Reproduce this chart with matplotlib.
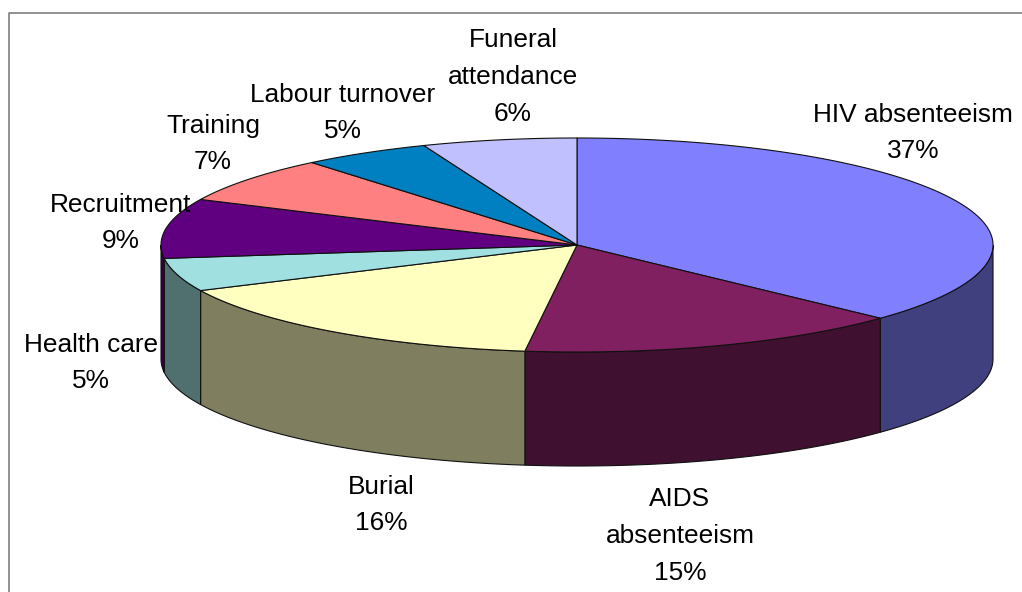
import numpy as np
import matplotlib
matplotlib.use("Agg")
import matplotlib.pyplot as plt
from matplotlib.patches import Polygon

##data
labels = ["HIV absenteeism", "AIDS\nabsenteeism", "Burial", "Health care",
          "Recruitment", "Training", "Labour turnover", "Funeral\nattendance"]
values = [37, 15, 16, 5, 9, 7, 5, 6]

##colours (top face, side wall)
top_colors = ["#8080ff", "#802060", "#ffffc0", "#a0e0e0",
              "#600080", "#ff8080", "#0080c0", "#c0c0ff"]
side_colors = ["#40407f", "#401030", "#7f7f60", "#507070",
               "#300040", "#7f4040", "#004060", "#60607f"]

##label centres in pixels
label_x = [913, 680, 381, 91, 121, 213, 343, 513]
label_y = [133, 536, 505, 363, 223, 144, 113, 77]

##pie geometry in pixels
CX, CY = 577, 245
RX, RY = 416, 107
DEPTH = 114


def ellipse(t, dy=0):
    #t is degrees clockwise from 12 o'clock
    t = np.radians(t)
    return np.column_stack([CX + RX*np.sin(t), CY - RY*np.cos(t) + dy])


plt.rcParams['font.family'] = ['Liberation Sans', 'DejaVu Sans']
fig = plt.figure(figsize=(10.22, 5.92), dpi=100)
ax = fig.add_axes([0, 0, 1, 1])
ax.set_xlim(0, 1022)
ax.set_ylim(592, 0)
ax.axis('off')

#frame, only top and left are inside the picture
ax.plot([8.5, 8.5, 1022], [592, 13, 13], color="#7f7f7f", lw=1.2, zorder=0)

edges = np.concatenate([[0], np.cumsum(values)]) * 360.0 / sum(values)

#side walls, only the part facing the viewer
for i in range(len(values)):
    t0 = max(edges[i], 90)
    t1 = min(edges[i+1], 270)
    if t1 <= t0:
        continue
    t = np.linspace(t0, t1, 100)
    pts = np.vstack([ellipse(t), ellipse(t[::-1], DEPTH)])
    ax.add_patch(Polygon(pts, closed=True, facecolor=side_colors[i],
                         edgecolor="#101010", lw=0.8, zorder=1))

#top faces
for i in range(len(values)):
    t = np.linspace(edges[i], edges[i+1], 200)
    pts = np.vstack([[CX, CY], ellipse(t)])
    ax.add_patch(Polygon(pts, closed=True, facecolor=top_colors[i],
                         edgecolor="#101010", lw=0.8, zorder=2))

#data labels
for i in range(len(values)):
    ax.text(label_x[i], label_y[i], "%s\n%d%%" % (labels[i], values[i]),
            ha='center', va='center', multialignment='center',
            fontsize=18.9, linespacing=1.66, color="black", zorder=3)

fig.savefig("out.png", dpi=100)
